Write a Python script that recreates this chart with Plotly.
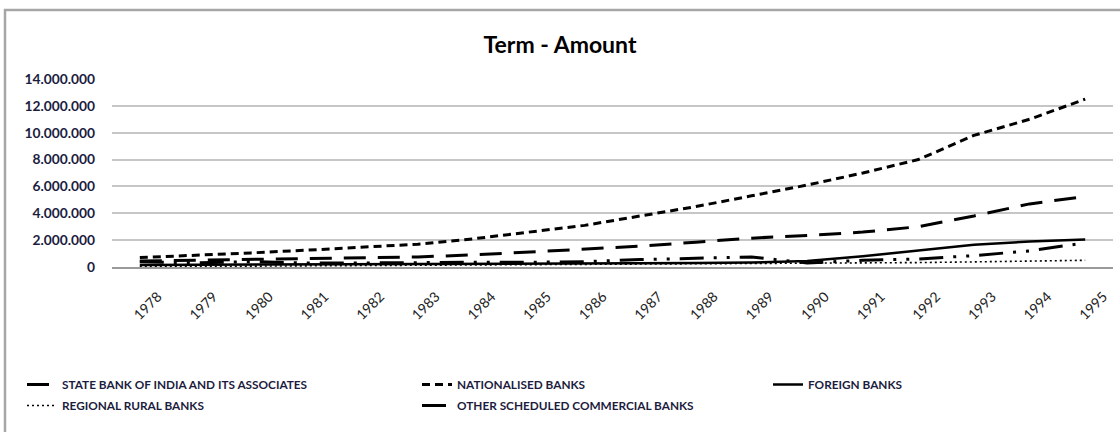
import plotly.graph_objects as go

# Term deposits (amount) by bank group, 1978-1995
years = [str(y) for y in range(1978, 1996)]

sbi_associates = [450000, 500000, 550000, 600000, 650000, 750000, 900000, 1100000, 1300000,
                  1550000, 1850000, 2150000, 2350000, 2600000, 3000000, 3800000, 4700000, 5250000]
nationalised = [700000, 850000, 1050000, 1250000, 1450000, 1700000, 2100000, 2600000, 3100000,
                3800000, 4500000, 5300000, 6100000, 7000000, 8000000, 9800000, 11000000, 12500000]
foreign = [150000, 160000, 170000, 180000, 190000, 200000, 210000, 220000, 240000,
           260000, 290000, 330000, 450000, 800000, 1250000, 1650000, 1900000, 2050000]
regional_rural = [20000, 40000, 60000, 80000, 100000, 120000, 140000, 160000, 180000,
                  200000, 220000, 250000, 280000, 300000, 330000, 380000, 430000, 500000]
other_scheduled = [400000, 300000, 400000, 300000, 300000, 350000, 350000, 350000, 400000,
                   550000, 650000, 750000, 300000, 500000, 600000, 850000, 1200000, 1800000]

series_names = [
    "STATE BANK OF INDIA AND ITS ASSOCIATES",
    "NATIONALISED BANKS",
    "FOREIGN BANKS",
    "REGIONAL RURAL BANKS",
    "OTHER SCHEDULED COMMERCIAL BANKS",
]
series_values = [sbi_associates, nationalised, foreign, regional_rural, other_scheduled]
series_dash = ["22px,12px", "8px,5px", "solid", "2px,3px", "24px,10px,3px,10px,3px,10px"]
series_width = [3, 3, 2.5, 1.6, 3]
# legend column for each series (three columns, filled top to bottom)
series_legend = ["legend", "legend2", "legend3", "legend", "legend2"]

fig = go.Figure()
for name, vals, dash, w, lg in zip(series_names, series_values, series_dash,
                                   series_width, series_legend):
    fig.add_trace(go.Scatter(
        x=years, y=vals, name=name, mode="lines", legend=lg, legendgroup=name,
        line=dict(color="#000000", width=w, dash=dash),
    ))

W, H = 1120, 432
ml, mr, mt, mb = 112, 7, 79, 165
pw, ph = W - ml - mr, H - mt - mb


def px_x(x):
    return (x - ml) / pw


def px_y(y):
    return (H - mb - y) / ph


legend_font = dict(family="Lato", size=11.8, color="#1c1c40", weight="bold")


def legend_at(x_px):
    return dict(
        orientation="v", xref="paper", x=px_x(x_px), xanchor="left",
        y=px_y(370), yanchor="top", itemwidth=30, tracegroupgap=2,
        font=legend_font, bgcolor="rgba(0,0,0,0)",
    )


fig.update_layout(
    width=W, height=H,
    margin=dict(l=ml, r=mr, t=mt, b=mb, autoexpand=False),
    paper_bgcolor="white", plot_bgcolor="white",
    separators=",.",
    title=dict(text="<b>Term - Amount</b>", x=0.5, xref="container",
               y=1 - 45 / H, yref="container", yanchor="middle", xanchor="center",
               font=dict(family="Lato", size=23, color="#000000")),
    xaxis=dict(
        type="category", range=[-0.5, 17.5], tickangle=-45, showgrid=False,
        showline=True, linecolor="#9a9a9a", linewidth=2,
        ticks="", ticklabelstandoff=14, ticklabelshift=18,
        tickfont=dict(family="Lato", size=14, color="#222222"),
    ),
    yaxis=dict(
        range=[0, 14000000], tickvals=list(range(0, 14000001, 2000000)),
        tickformat=",d", showgrid=True, gridcolor="#c6c6c6", gridwidth=1.5,
        zeroline=False, showline=False, ticks="", ticklabelstandoff=16,
        tickfont=dict(family="Lato", size=13.8, color="#1c1c40", weight="bold"),
    ),
    legend=legend_at(22),
    legend2=legend_at(417),
    legend3=legend_at(768),
    shapes=[dict(
        type="rect", xref="paper", yref="paper",
        x0=px_x(5), x1=px_x(1130), y0=px_y(445), y1=px_y(10),
        line=dict(color="#a6a6a6", width=2.5), fillcolor="rgba(0,0,0,0)", layer="below",
    )],
)

fig.write_html("out.html")
